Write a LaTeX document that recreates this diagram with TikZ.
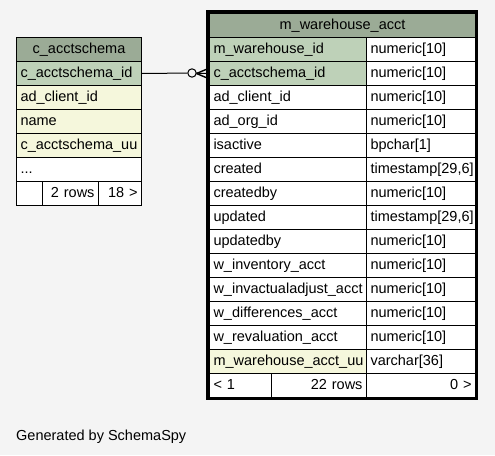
\documentclass[tikz,border=0pt]{standalone}
\usepackage{fontspec}
\setmainfont{Liberation Sans}
\definecolor{bgc}{HTML}{F4F4F4}
\definecolor{hdr}{HTML}{9BAB96}
\definecolor{pk}{HTML}{BED1B8}
\definecolor{idx}{HTML}{F5F7DC}
\tikzset{
  cell/.style={draw=black, line width=1pt, anchor=north west, inner xsep=4pt, inner ysep=0pt,
    minimum height=24pt, text height=10.5pt, text depth=3pt, font=\fontsize{14.5}{16}\selectfont, fill=white},
  lw/.style={cell, text width=117pt, align=left},
  rc1/.style={cell, text width=149pt, align=left},
  rc2/.style={cell, text width=101pt, align=left},
  conn/.style={draw=black, line width=1pt},
  prong/.style={draw=black, line width=1.4pt},
}
\begin{document}
\begin{tikzpicture}[x=1pt,y=-1pt]
\fill[bgc] (0,0) rectangle (495,455);
\useasboundingbox (0,0) rectangle (495,455);
% left table
\node[lw, fill=hdr, align=center] (L0) at (16,37) {c\_acctschema};
\node[lw, fill=pk] (L1) at (16,61) {c\_acctschema\_id};
\node[lw, fill=idx] (L2) at (16,85) {ad\_client\_id};
\node[lw, fill=idx] (L3) at (16,109) {name};
\node[lw, fill=idx] (L4) at (16,133) {c\_acctschema\_uu};
\node[lw] (L5) at (16,157) {...};
\node[cell, text width=18pt] (Lf1) at (16,181) {};
\node[cell, text width=48pt, align=right] (Lf2) at (42,181) {2 rows};
\node[cell, text width=35pt, align=right] (Lf3) at (98,181) {18 >};
% right table
\node[cell, text width=258pt, align=center, fill=hdr] (R0) at (209,13) {m\_warehouse\_acct};
\foreach \n/\a/\f [count=\i] in {
  m\_warehouse\_id/numeric[10]/pk,
  c\_acctschema\_id/numeric[10]/pk,
  ad\_client\_id/numeric[10]/white,
  ad\_org\_id/numeric[10]/white,
  isactive/bpchar[1]/white,
  created/{timestamp[29,6]}/white,
  createdby/numeric[10]/white,
  updated/{timestamp[29,6]}/white,
  updatedby/numeric[10]/white,
  w\_inventory\_acct/numeric[10]/white,
  w\_invactualadjust\_acct/numeric[10]/white,
  w\_differences\_acct/numeric[10]/white,
  w\_revaluation\_acct/numeric[10]/white,
  m\_warehouse\_acct\_uu/varchar[36]/idx}{
  \node[rc1, fill=\f] (Ra\i) at (209,13+24*\i) {\n};
  \node[rc2] (Rb\i) at (366,13+24*\i) {\a};
}
\node[cell, text width=54pt, align=left] (Rf1) at (209,373) {< 1};
\node[cell, text width=87pt, align=right] (Rf2) at (271,373) {22 rows};
\node[cell, text width=101pt, align=right] (Rf3) at (366,373) {0 >};
\draw[line width=3pt] (207.5,11.5) rectangle (476.5,398.5);
% connector
\node[circle, draw=black, line width=1pt, minimum size=8.4pt, inner sep=0pt] (circ) at (192,73) {};
\coordinate (rin) at ([xshift=-3pt]Ra2.west);
\coordinate (cf) at ([xshift=-9.5pt]rin);
\draw[conn] (L1.east) -- (circ);
\draw[conn] (circ) -- (rin);
\draw[prong] (cf) -- ([yshift=-4pt]rin);
\draw[prong] (cf) -- ([yshift=4pt]rin);
% footer
\node[anchor=base west, inner sep=0pt, font=\fontsize{14.5}{16}\selectfont] (gen) at (16,440) {Generated by SchemaSpy};
\end{tikzpicture}
\end{document}
